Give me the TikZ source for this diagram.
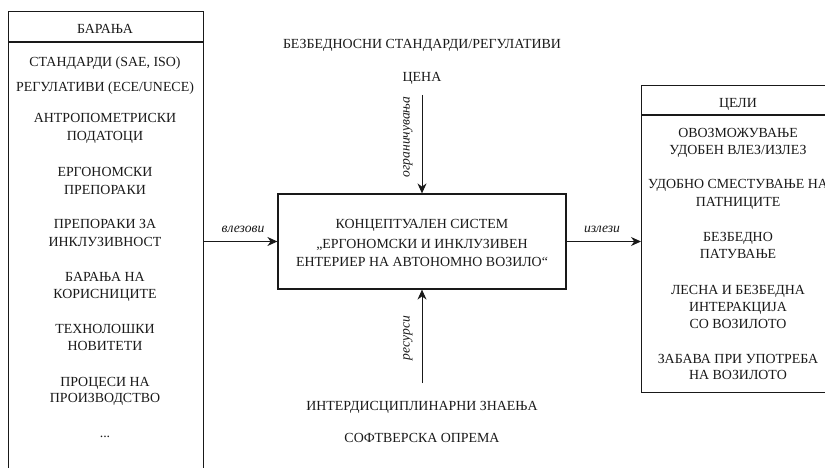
\documentclass[tikz,border=0pt]{standalone}
\usepackage{fontspec}
\setmainfont{Liberation Serif}
\usetikzlibrary{arrows.meta}

\tikzset{
  frame/.style={draw=black!90, line width=1.2pt, inner sep=0pt},
  txt/.style={anchor=base, inner sep=0pt, yshift=-2pt, text=black!90, font=\fontsize{13.9}{16}\selectfont},
  itl/.style={inner sep=0pt, text=black!90, font=\fontsize{13.6}{16}\selectfont\itshape},
  arr/.style={draw=black!90, line width=1pt, -{Stealth[length=10pt,width=9pt]}},
  rule/.style={draw=black!90, line width=1.2pt},
}

\begin{document}
\begin{tikzpicture}[x=1pt, y=-1pt]
\useasboundingbox (0,0) rectangle (825,468);
\clip (0,0) rectangle (825,468);

% ---- requirements column ----
\node[frame, anchor=north west, minimum width=195pt, minimum height=470pt] (req) at (8,11) {};
\coordinate (reqhl) at (8,42);
\draw[rule] (reqhl) -- (reqhl -| req.east);
\node[txt] (r0)  at (105,32)  {БАРАЊА};
\node[txt] (r1)  at (105,65)  {СТАНДАРДИ (SAE, ISO)};
\node[txt] (r2)  at (105,90)  {РЕГУЛАТИВИ (ECE/UNECE)};
\node[txt] (r3a) at (105,121) {АНТРОПОМЕТРИСКИ};
\node[txt] (r3b) at (105,139) {ПОДАТОЦИ};
\node[txt] (r4a) at (105,175) {ЕРГОНОМСКИ};
\node[txt] (r4b) at (105,192) {ПРЕПОРАКИ};
\node[txt] (r5a) at (105,227) {ПРЕПОРАКИ ЗА};
\node[txt] (r5b) at (105,244) {ИНКЛУЗИВНОСТ};
\node[txt] (r6a) at (105,279) {БАРАЊА НА};
\node[txt] (r6b) at (105,296) {КОРИСНИЦИТЕ};
\node[txt] (r7a) at (105,331) {ТЕХНОЛОШКИ};
\node[txt] (r7b) at (105,348) {НОВИТЕТИ};
\node[txt] (r8a) at (105,384) {ПРОЦЕСИ НА};
\node[txt] (r8b) at (105,400) {ПРОИЗВОДСТВО};
\node[txt] (r9)  at (105,435) {...};

% ---- goals column ----
\node[frame, anchor=north west, minimum width=195pt, minimum height=307pt] (goal) at (641,85) {};
\coordinate (goalhl) at (641,115);
\draw[rule] (goalhl) -- (goalhl -| goal.east);
\node[txt] (g0)  at (738,106) {ЦЕЛИ};
\node[txt] (g1a) at (738,136) {ОВОЗМОЖУВАЊЕ};
\node[txt] (g1b) at (738,153) {УДОБЕН ВЛЕЗ/ИЗЛЕЗ};
\node[txt] (g2a) at (738,187) {УДОБНО СМЕСТУВАЊЕ НА};
\node[txt] (g2b) at (738,204) {ПАТНИЦИТЕ};
\node[txt] (g3a) at (738,239) {БЕЗБЕДНО};
\node[txt] (g3b) at (738,256) {ПАТУВАЊЕ};
\node[txt] (g4a) at (738,292) {ЛЕСНА И БЕЗБЕДНА};
\node[txt] (g4b) at (738,309) {ИНТЕРАКЦИЈА};
\node[txt] (g4c) at (738,326) {СО ВОЗИЛОТО};
\node[txt] (g5a) at (738,361) {ЗАБАВА ПРИ УПОТРЕБА};
\node[txt] (g5b) at (738,377) {НА ВОЗИЛОТО};

% ---- central system ----
\node[frame, minimum width=288pt, minimum height=95pt] (sys) at (422,241.5) {};
\node[txt] (s1) at (422,227) {КОНЦЕПТУАЛЕН СИСТЕМ};
\node[txt] (s2) at (422,246) {„ЕРГОНОМСКИ И ИНКЛУЗИВЕН};
\node[txt] (s3) at (422,264) {ЕНТЕРИЕР НА АВТОНОМНО ВОЗИЛО“};

% ---- controls (top) ----
\node[txt] (c1) at (422,47) {БЕЗБЕДНОСНИ СТАНДАРДИ/РЕГУЛАТИВИ};
\node[txt] (c2) at (422,80) {ЦЕНА};
\coordinate (ctop) at (422,95);
\draw[arr] (ctop) -- (sys.north);
\node[itl, rotate=90] (lctl) at (408,137) {ограничувања};

% ---- resources (bottom) ----
\node[txt] (m1) at (422,408) {ИНТЕРДИСЦИПЛИНАРНИ ЗНАЕЊА};
\node[txt] (m2) at (422,440) {СОФТВЕРСКА ОПРЕМА};
\coordinate (cbot) at (422,383);
\draw[arr] (cbot) -- (sys.south);
\node[itl, rotate=90] (lres) at (408,338) {ресурси};

% ---- inputs / outputs ----
\draw[arr] (sys.west -| req.east) -- (sys.west);
\node[itl] (lin) at (243,229) {влезови};
\draw[arr] (sys.east) -- (sys.east -| goal.west);
\node[itl] (lout) at (602,229) {излези};
\end{tikzpicture}
\end{document}
